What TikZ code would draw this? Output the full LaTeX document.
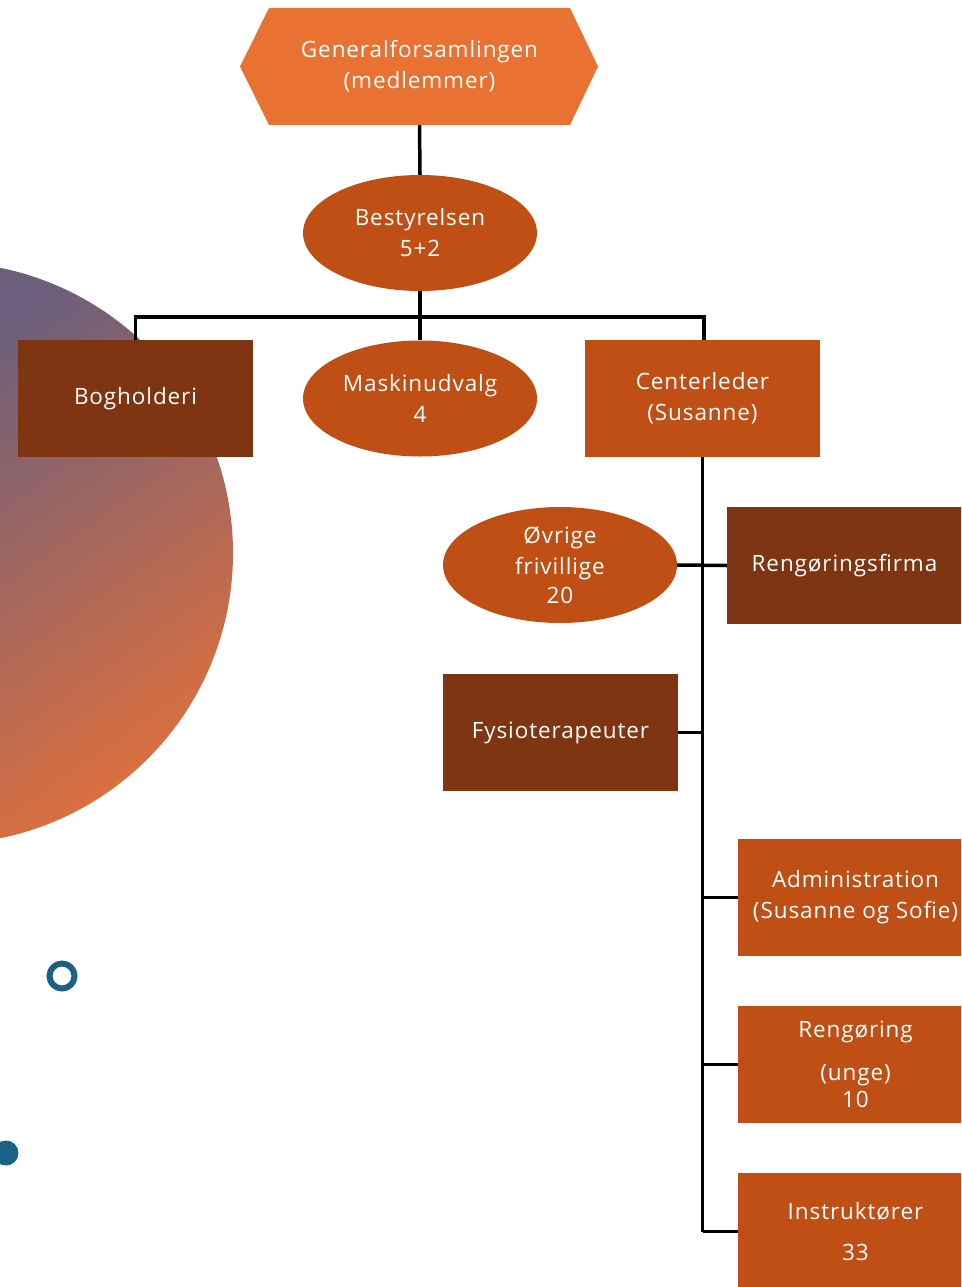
\documentclass[tikz,border=0pt]{standalone}
\usepackage{fontspec}
\setmainfont{Open Sans}[LetterSpace=4]
\usetikzlibrary{shapes.geometric,calc}
\definecolor{hexorange}{HTML}{E97132}
\definecolor{rust}{HTML}{C04F15}
\definecolor{darkrust}{HTML}{7F3511}
\definecolor{dotblue}{HTML}{1B6185}
\definecolor{gradtop}{HTML}{6B5F7C}
\definecolor{gradmid}{HTML}{C86C52}
\definecolor{gradbot}{HTML}{E4703A}
\tikzset{
  lbl/.style={text=white, align=center, font=\fontsize{22.5}{31}\selectfont, inner sep=0pt},
  rustbox/.style={lbl, rectangle, fill=rust, minimum width=235pt, minimum height=117pt},
  brownbox/.style={lbl, rectangle, fill=darkrust, minimum width=235pt, minimum height=117pt},
  rustoval/.style={lbl, ellipse, fill=rust, minimum width=234pt, minimum height=116pt},
  conn/.style={draw=black, line width=3.5pt},
}
\begin{document}
\begin{tikzpicture}[x=1pt,y=-1pt]
\useasboundingbox (0,0) rectangle (961,1287);
\clip (0,0) rectangle (961,1287);
% decorative gradient circle
\begin{scope}
  \clip (-58,553) circle (291);
  \shade[top color=gradtop, middle color=gradmid, bottom color=gradbot, shading angle=35] (-60,250) rectangle (240,860);
\end{scope}
% small dots
\draw[dotblue, line width=6pt] (62,976) circle (12.5);
\fill[dotblue] (6,1153) circle (12.5);
% hexagon
\fill[hexorange] (269,8) -- (570,8) -- (598,66.5) -- (570,125) -- (269,125) -- (240,66.5) -- cycle;
\node[lbl] (gen) at (419.5,66.5) {Generalforsamlingen\\(medlemmer)};
% nodes
\node[rustoval] (best) at (420,233) {Bestyrelsen\\5+2};
\node[brownbox] (bog) at (135.5,398.5) {Bogholderi};
\node[rustoval] (mask) at (420,398.5) {Maskinudvalg\\4};
\node[rustbox] (cl) at (702.5,398.5) {Centerleder\\(Susanne)};
\node[rustoval] (ovr) at (560,565) {Øvrige\\frivillige\\[-2pt]20};
\node[brownbox] (reng) at (844.5,565.5) {Rengøringsfirma};
\node[brownbox] (fys) at (560.5,732.5) {Fysioterapeuter};
\node[rustbox] (adm) at (855.5,897.5) {Administration\\(Susanne og Sofie)};
\node[rustbox] (rng) at (855.5,1064.5) {Rengøring\\[12pt](unge)\\[-4pt]10};
\node[rustbox] (ins) at (855.5,1231.5) {Instruktører\\[10pt]33};
\coordinate (bus) at (420,317);
% connectors
\draw[conn] (gen.south |- 0,125) -- (best.north);
\draw[conn] (best.south) -- (mask.north);
\draw[conn] (bog.north) -- (bog.north |- bus) -- (704,317) -- (704,340);
\draw[conn] (cl.south) -- (cl.south |- ins.west);
\draw[conn] (ovr.east) -- (reng.west);
\draw[conn] (fys.east) -- (fys.east -| cl.south);
\draw[conn] (adm.west) -- (adm.west -| cl.south);
\draw[conn] (rng.west) -- (rng.west -| cl.south);
\draw[conn] (ins.west) -- (ins.west -| cl.south);
\end{tikzpicture}
\end{document}
